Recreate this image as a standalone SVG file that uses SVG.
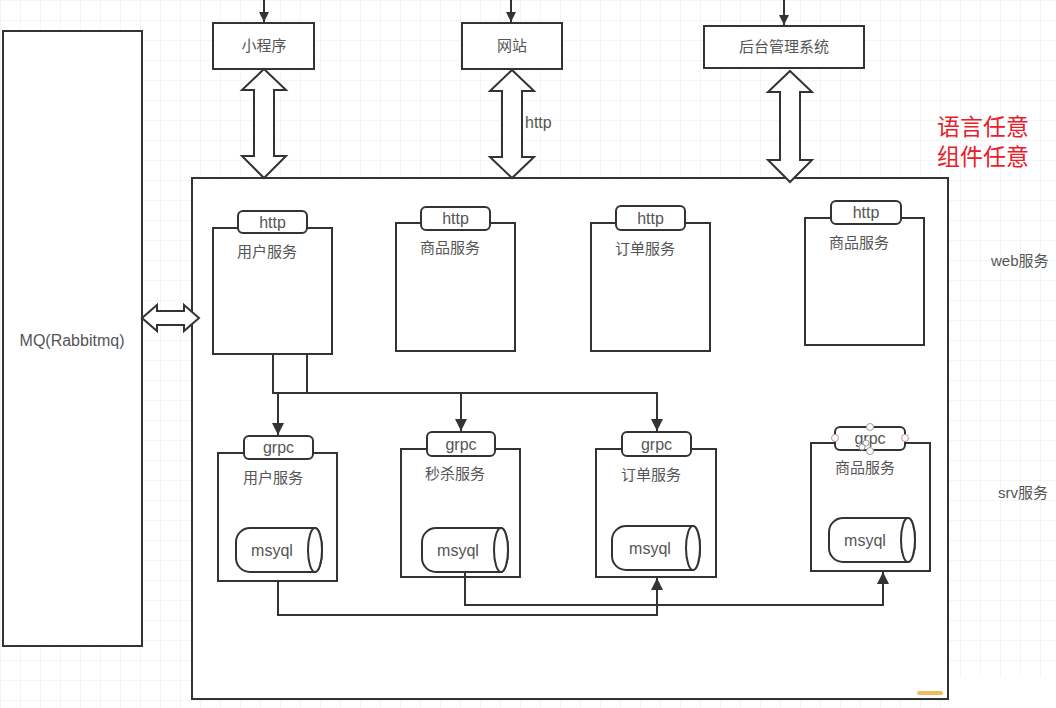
<svg xmlns="http://www.w3.org/2000/svg" width="1056" height="708" viewBox="0 0 1056 708">
<defs>
<pattern id="grid" width="20" height="20" patternUnits="userSpaceOnUse">
<path d="M20 0H0V20" fill="none" stroke="#ececec" stroke-width="1"/>
</pattern>
<marker id="arr" viewBox="0 0 10 10" refX="10" refY="5" markerWidth="10" markerHeight="10" markerUnits="userSpaceOnUse" orient="auto">
<path d="M0 0L10 5L0 10z" fill="#333"/>
</marker>
<marker id="arr2" viewBox="0 0 12 12" refX="12" refY="6" markerWidth="12" markerHeight="12" markerUnits="userSpaceOnUse" orient="auto">
<path d="M0 0L12 6L0 12z" fill="#333"/>
</marker>
</defs>
<style>
.box{fill:#fff;stroke:#333;stroke-width:2}
.tab{fill:#fff;stroke:#333;stroke-width:2}
.blk{fill:#fff;stroke:#333;stroke-width:2;stroke-linejoin:miter}
.ln{fill:none;stroke:#333;stroke-width:2}
.t{font-family:"Liberation Sans","Noto Sans CJK SC",sans-serif;font-size:15px;fill:#555}
.c{text-anchor:middle}
.tt{font-family:"Liberation Sans","Noto Sans CJK SC",sans-serif;font-size:16px;fill:#555;text-anchor:middle}
.red{font-family:"Liberation Sans","Noto Sans CJK SC",sans-serif;font-size:23px;fill:#e8202a}
.hd{fill:#fff;stroke:#999;stroke-width:1}
</style>
<rect width="1056" height="708" fill="#fff"/>
<rect width="1056" height="708" fill="url(#grid)"/>
<rect x="949" y="677" width="107" height="31" fill="#fff"/>

<g id="mq">
<rect class="box" x="3" y="31" width="139" height="615"/>
<text class="t c" x="72" y="346" style="font-size:16px">MQ(Rabbitmq)</text>
</g>

<g id="container">
<rect class="box" x="192" y="178" width="756" height="521"/>
<rect x="917" y="691" width="26" height="4" rx="2" fill="#eebb60"/>
</g>

<g id="miniapp">
<rect class="box" x="213" y="23" width="101" height="46"/>
<text class="t c" x="264" y="51">小程序</text>
</g>
<g id="website">
<rect class="box" x="462" y="23" width="100" height="46"/>
<text class="t c" x="512" y="51">网站</text>
</g>
<g id="admin">
<rect class="box" x="704" y="26" width="160" height="42"/>
<text class="t c" x="784" y="52">后台管理系统</text>
</g>

<g id="web-user">
<rect class="box" x="213" y="228" width="119" height="126"/>
<rect class="tab" x="238" y="211" width="69" height="22" rx="5"/>
<text class="tt" x="272.5" y="227.5">http</text>
<text class="t" x="237" y="257">用户服务</text>
</g>
<g id="web-goods">
<rect class="box" x="396" y="223" width="119" height="128"/>
<rect class="tab" x="421" y="207" width="69" height="23" rx="5"/>
<text class="tt" x="455.5" y="224">http</text>
<text class="t" x="420" y="253">商品服务</text>
</g>
<g id="web-order">
<rect class="box" x="591" y="223" width="119" height="128"/>
<rect class="tab" x="616" y="206" width="69" height="24" rx="5"/>
<text class="tt" x="650.5" y="223.5">http</text>
<text class="t" x="615" y="254">订单服务</text>
</g>
<g id="web-goods2">
<rect class="box" x="805" y="218" width="119" height="127"/>
<rect class="tab" x="831" y="201" width="70" height="23" rx="5"/>
<text class="tt" x="866" y="218">http</text>
<text class="t" x="829" y="248">商品服务</text>
</g>

<g id="srv-user">
<rect class="box" x="218" y="453" width="119" height="128"/>
<rect class="tab" x="244" y="436" width="69" height="23" rx="5"/>
<text class="tt" x="278.5" y="453">grpc</text>
<text class="t" x="243" y="483">用户服务</text>
<path class="box" d="M250 528H315A7 22 0 0 1 315 572H250A14 14 0 0 1 236 558V542A14 14 0 0 1 250 528Z"/>
<ellipse class="box" cx="315" cy="550" rx="7" ry="22"/>
<text class="tt" x="272" y="556">msyql</text>
</g>
<g id="srv-seckill">
<rect class="box" x="401" y="449" width="119" height="128"/>
<rect class="tab" x="427" y="432" width="68" height="24" rx="5"/>
<text class="tt" x="461" y="449.5">grpc</text>
<text class="t" x="425" y="479">秒杀服务</text>
<path class="box" d="M436 528H501A7 22 0 0 1 501 572H436A14 14 0 0 1 422 558V542A14 14 0 0 1 436 528Z"/>
<ellipse class="box" cx="501" cy="550" rx="7" ry="22"/>
<text class="tt" x="458" y="556">msyql</text>
</g>
<g id="srv-order">
<rect class="box" x="596" y="449" width="120" height="128"/>
<rect class="tab" x="622" y="432" width="69" height="24" rx="5"/>
<text class="tt" x="656.5" y="449.5">grpc</text>
<text class="t" x="621" y="480">订单服务</text>
<path class="box" d="M626 526H693A7 22 0 0 1 693 570H626A14 14 0 0 1 612 556V540A14 14 0 0 1 626 526Z"/>
<ellipse class="box" cx="693" cy="548" rx="7" ry="22"/>
<text class="tt" x="650" y="554">msyql</text>
</g>
<g id="srv-goods">
<rect class="box" x="811" y="443" width="119" height="128"/>
<rect class="tab" x="835" y="427" width="70" height="23" rx="5"/>
<text class="tt" x="870" y="444">grpc</text>
<text class="t" x="835" y="473">商品服务</text>
<path class="box" d="M843 518H908A7 22 0 0 1 908 562H843A14 14 0 0 1 829 548V532A14 14 0 0 1 843 518Z"/>
<ellipse class="box" cx="908" cy="540" rx="7" ry="22"/>
<text class="tt" x="865" y="546">msyql</text>
<g id="handles">
<circle class="hd" cx="835" cy="438" r="3.5" style="stroke:#c89090"/>
<circle class="hd" cx="905" cy="438" r="3.5" style="stroke:#c89090"/>
<circle class="hd" cx="870" cy="427" r="3.5"/>
<circle class="hd" cx="870" cy="451" r="3.5"/>
<circle class="hd" cx="866" cy="443" r="3"/>
<circle class="hd" cx="862" cy="447" r="3"/>
</g>
</g>

<g id="labels">
<text class="t" x="525" y="128" style="font-size:16px">http</text>
<text class="t" x="991" y="266">web服务</text>
<text class="t" x="998" y="498">srv服务</text>
<text class="red" x="937" y="135">语言任意</text>
<text class="red" x="937" y="165">组件任意</text>
</g>

<g id="connectors">
<path class="ln" d="M264 -2V22" marker-end="url(#arr)"/>
<path class="ln" d="M511 -2V22" marker-end="url(#arr)"/>
<path class="ln" d="M784 -2V25" marker-end="url(#arr)"/>
<polygon class="blk" points="264,69 286,90 274,90 274,156 286,156 264,178 242,156 254,156 254,90 242,90"/>
<polygon class="blk" points="512,70 534,91 522,91 522,157 534,157 512,178 490,157 502,157 502,91 490,91"/>
<polygon class="blk" points="790,71 812,92 800,92 800,160 812,160 790,182 768,160 780,160 780,92 768,92"/>
<polygon class="blk" points="142,318 157,305 157,311 184,311 184,305 199,318 184,331 184,325 157,325 157,331"/>
<path class="ln" d="M273 354V393H657V431" marker-end="url(#arr2)"/>
<path class="ln" d="M307 354V393"/>
<path class="ln" d="M278 393V435" marker-end="url(#arr2)"/>
<path class="ln" d="M461 393V431" marker-end="url(#arr2)"/>
<path class="ln" d="M278 581V615H657V578" marker-end="url(#arr2)"/>
<path class="ln" d="M465 572V605H883V572" marker-end="url(#arr2)"/>
</g>
</svg>
